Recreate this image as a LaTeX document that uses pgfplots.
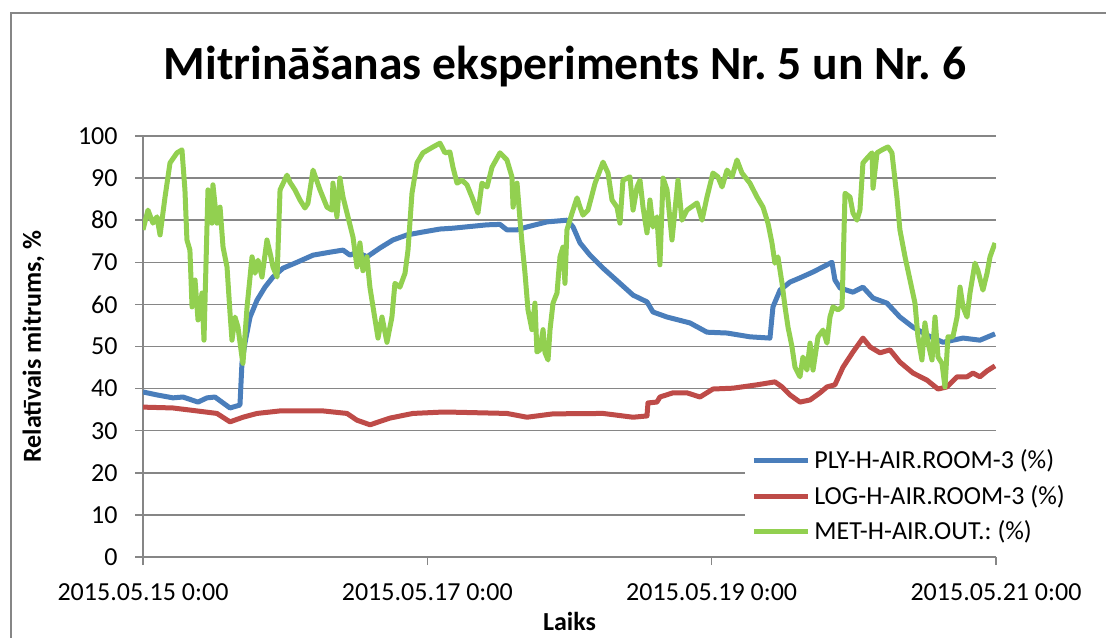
\documentclass[border=0pt]{standalone}
\usepackage{fontspec}
\setmainfont{Carlito}
\usepackage{pgfplots}
\pgfplotsset{compat=1.18}
\definecolor{cblue}{RGB}{74,126,187}
\definecolor{cred}{RGB}{190,75,72}
\definecolor{cgreen}{RGB}{146,208,80}
\definecolor{cgrid}{RGB}{134,134,134}
\frenchspacing
\begin{document}
\begin{tikzpicture}[x=0.5pt,y=0.5pt]
\useasboundingbox (0,0) rectangle (1106,637);
\draw[cgrid, line width=0.7pt] (11,624) rectangle (1125,-20);
\node[anchor=base, font=\fontsize{23.8}{28}\selectfont\bfseries] at (565,557) {Mitrināšanas eksperiments Nr. 5 un Nr. 6};
\begin{axis}[at={(71.5pt,40pt)}, anchor=south west, scale only axis,
  width=426.5pt, height=210.5pt,
  xmin=0, xmax=6, ymin=0, ymax=100,
  xtick={0,2,4,6},
  xticklabels={2015.05.15 0:00, 2015.05.17 0:00, 2015.05.19 0:00, 2015.05.21 0:00},
  ytick={0,10,...,100},
  axis x line*=bottom, axis y line*=left,
  axis line style={cgrid, line width=0.7pt, -},
  ymajorgrids, grid style={cgrid, line width=0.7pt},
  tick align=outside, major tick length=4pt,
  tick style={cgrid, line width=0.7pt},
  /pgf/number format/assume math mode=true,
  ticklabel style={font=\fontsize{13}{15}\selectfont},
  yticklabel style={anchor=east, inner xsep=0pt, xshift=-8.5pt},
  xticklabel style={anchor=north, inner ysep=0pt, yshift=-9pt},
  xlabel={Laiks},
  xlabel style={font=\fontsize{13}{15}\selectfont\bfseries, at={(axis description cs:0.5,-0.1746)}, anchor=base},
  ylabel={Relatīvais mitrums, \%},
  ylabel style={font=\fontsize{13}{15}\selectfont\bfseries, at={(axis description cs:-0.1196,0.5)}, anchor=base},
  legend style={at={(axis description cs:0.7057,0.2756)}, anchor=north west, draw=none, fill=white,
    font=\fontsize{13}{15}\selectfont, row sep=2.8pt, inner xsep=3pt, inner ysep=2pt},
  legend cell align=left,
  legend image code/.code={\draw[#1, line width=2.5pt] (0pt,0pt) -- (27pt,0pt);},
  every axis plot/.append style={line width=2.5pt, line join=round},
]
\addplot[cblue] coordinates {
(0.000,39.2) (0.098,38.5) (0.211,37.8) (0.281,38.0) (0.387,36.8) (0.450,37.8) (0.506,38.0) (0.563,36.6)
(0.612,35.4) (0.682,36.1) (0.696,46.0) (0.717,50.8) (0.753,57.0) (0.802,61.0) (0.858,64.1) (0.914,66.5)
(0.985,68.6) (1.083,70.0) (1.196,71.7) (1.315,72.4) (1.407,72.9) (1.456,71.7) (1.505,72.4) (1.576,71.3)
(1.667,73.4) (1.758,75.3) (1.857,76.5) (1.969,77.2) (2.089,77.9) (2.180,78.1) (2.420,78.9) (2.511,79.0)
(2.560,77.7) (2.631,77.7) (2.701,78.4) (2.842,79.6) (2.982,80.0) (3.025,78.4) (3.074,74.6) (3.144,71.7)
(3.236,68.6) (3.355,65.0) (3.447,62.2) (3.545,60.6) (3.587,58.2) (3.686,57.0) (3.847,55.6) (3.967,53.4)
(4.108,53.2) (4.269,52.3) (4.410,52.0) (4.431,59.4) (4.481,63.4) (4.551,65.3) (4.621,66.3) (4.713,67.7)
(4.846,70.0) (4.867,65.8) (4.903,63.9) (4.994,62.9) (5.064,64.1) (5.135,61.5) (5.233,60.3) (5.324,57.0)
(5.416,54.6) (5.515,52.7) (5.627,51.0) (5.768,52.0) (5.887,51.5) (5.993,53.0)
};
\addlegendentry{PLY-H-AIR.ROOM-3 (\%)}
\addplot[cred] coordinates {
(0.000,35.6) (0.211,35.4) (0.450,34.4) (0.520,34.1) (0.612,32.1) (0.703,33.2) (0.802,34.1) (0.964,34.7)
(1.266,34.7) (1.435,34.1) (1.505,32.5) (1.597,31.4) (1.737,33.0) (1.899,34.1) (2.089,34.4) (2.180,34.4)
(2.560,34.1) (2.701,33.2) (2.884,34.0) (3.236,34.1) (3.447,33.2) (3.545,33.5) (3.552,36.6) (3.615,36.8)
(3.636,38.0) (3.728,39.0) (3.826,39.0) (3.918,38.0) (4.009,39.9) (4.150,40.1) (4.319,40.9) (4.445,41.6)
(4.495,40.4) (4.551,38.5) (4.621,36.8) (4.692,37.3) (4.762,39.0) (4.811,40.4) (4.867,40.9) (4.924,45.1)
(4.994,48.7) (5.064,52.0) (5.114,49.9) (5.184,48.5) (5.254,49.2) (5.324,46.3) (5.416,43.7) (5.515,42.0)
(5.592,39.9) (5.655,40.4) (5.726,42.8) (5.796,42.8) (5.838,43.7) (5.887,42.8) (5.937,44.2) (5.993,45.4)
};
\addlegendentry{LOG-H-AIR.ROOM-3 (\%)}
\addplot[cgreen] coordinates {
(0.000,77.7) (0.035,82.4) (0.070,79.3) (0.098,80.8) (0.120,76.5) (0.155,85.5) (0.190,93.6) (0.239,96.0)
(0.274,96.7) (0.295,87.2) (0.309,75.3) (0.330,72.9) (0.345,59.4) (0.366,65.8) (0.387,56.3) (0.415,62.7)
(0.429,51.5) (0.450,78.4) (0.457,87.2) (0.485,79.3) (0.492,88.4) (0.520,79.3) (0.542,83.1) (0.563,73.6)
(0.591,68.9) (0.612,58.0) (0.626,51.5) (0.647,57.0) (0.668,54.6) (0.696,47.5) (0.703,46.0) (0.732,59.4)
(0.767,71.3) (0.788,67.4) (0.809,70.5) (0.837,66.5) (0.872,75.3) (0.900,71.3) (0.914,68.9) (0.943,66.5)
(0.964,87.2) (1.013,90.7) (1.034,89.0) (1.069,87.2)
(1.104,84.8) (1.139,82.9) (1.160,84.0) (1.196,91.9) (1.245,87.2) (1.294,83.1) (1.329,82.4) (1.336,88.8)
(1.364,80.8) (1.385,90.0) (1.407,85.5) (1.435,81.7) (1.477,76.0) (1.505,68.9) (1.526,74.6) (1.547,68.0)
(1.575,71.3) (1.596,64.1) (1.618,59.4) (1.653,52.0) (1.681,57.0) (1.716,51.0) (1.751,57.0) (1.772,65.0)
(1.807,64.1) (1.843,67.4) (1.864,72.9) (1.892,86.4) (1.927,93.6) (1.969,96.0) (2.040,97.4) (2.089,98.3)
(2.124,96.0) (2.159,96.2) (2.180,92.6) (2.209,88.8) (2.244,89.5) (2.279,88.4) (2.314,85.5) (2.356,81.7)
(2.384,88.8) (2.420,87.9) (2.455,92.6) (2.511,96.0) (2.560,94.3) (2.595,90.3) (2.603,83.1) (2.631,88.8)
(2.652,80.0) (2.666,74.6) (2.687,67.4) (2.708,58.7) (2.736,54.0) (2.757,60.3) (2.771,48.7) (2.792,49.2)
(2.814,54.0) (2.828,48.5) (2.849,46.8) (2.863,54.0) (2.884,60.3) (2.912,62.7) (2.933,71.3) (2.954,73.6)
(2.968,65.0) (2.982,77.7) (3.018,81.7) (3.053,85.3) (3.074,83.1) (3.095,81.2) (3.130,82.4) (3.180,88.8)
(3.236,93.8) (3.271,91.2) (3.299,84.8) (3.334,83.1) (3.355,79.3) (3.376,89.5) (3.425,90.3) (3.447,82.4)
(3.475,87.9) (3.496,89.5) (3.517,83.1) (3.545,77.0) (3.566,84.8) (3.587,78.4) (3.615,80.8) (3.636,69.4)
(3.658,90.0) (3.686,87.2) (3.721,75.3) (3.763,89.5) (3.791,80.0) (3.826,82.4)
(3.897,84.1) (3.932,80.0) (3.967,85.5) (4.009,91.2) (4.044,90.3) (4.073,87.9) (4.108,91.9)
(4.143,90.3) (4.178,94.3) (4.213,91.2) (4.269,88.8) (4.319,85.5) (4.361,83.1) (4.396,79.3) (4.424,74.6)
(4.445,69.8) (4.466,71.3) (4.495,65.0) (4.516,59.4) (4.537,54.6) (4.565,49.9) (4.586,45.1) (4.621,42.8)
(4.642,47.5) (4.670,44.4) (4.692,50.8) (4.713,44.4) (4.748,52.3) (4.783,53.9) (4.811,50.8) (4.832,57.0)
(4.853,59.4) (4.889,58.7) (4.917,59.4) (4.938,86.4) (4.973,85.5) (4.994,81.7) (5.022,80.0) (5.043,82.4)
(5.064,93.6) (5.100,95.0) (5.128,96.0) (5.135,87.6) (5.163,96.0) (5.198,96.7) (5.240,97.4) (5.268,96.0)
(5.303,85.5) (5.324,77.7) (5.360,71.3) (5.395,65.8) (5.430,60.3) (5.451,52.3) (5.479,46.8) (5.500,55.6)
(5.522,50.8) (5.550,46.8) (5.571,57.0) (5.592,47.5) (5.620,46.0) (5.641,40.4) (5.662,52.3) (5.697,52.3)
(5.726,57.0) (5.747,64.1) (5.768,59.4) (5.796,57.0) (5.817,62.7) (5.852,69.8) (5.873,68.0) (5.908,63.4)
(5.937,67.4) (5.958,71.3) (5.993,74.6)
};
\addlegendentry{MET-H-AIR.OUT.: (\%)}
\end{axis}
\end{tikzpicture}
\end{document}
